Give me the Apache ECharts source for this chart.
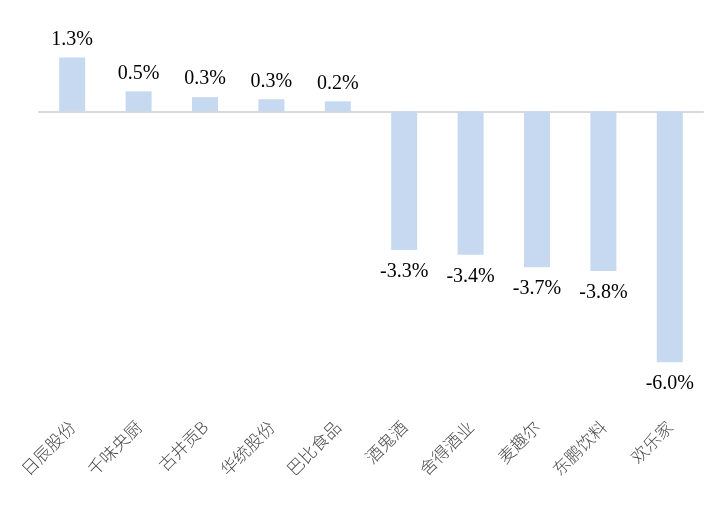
<!DOCTYPE html>
<html><head><meta charset="utf-8">
<script src="https://cdn.jsdelivr.net/npm/echarts@6/dist/echarts.min.js"></script>
<style>html,body{margin:0;padding:0;background:#fff}#c{width:726px;height:516px}</style>
</head><body><div id="c"></div>
<script>
const categories = ['日辰股份','千味央厨','古井贡B','华统股份','巴比食品','酒鬼酒','舍得酒业','麦趣尔','东鹏饮料','欢乐家'];
const values = [1.29, 0.48, 0.34, 0.29, 0.24, -3.33, -3.44, -3.74, -3.83, -6.02];
const chart = echarts.init(document.getElementById('c'));
chart.setOption({
  animation: false,
  grid: {left: 39, right: 23, top: 28, height: 375},
  xAxis: [{
    type: 'category', data: categories, position: 'bottom',
    axisLine: {onZero: false, show: false}, axisTick: {show: false},
    axisLabel: {rotate: 45, margin: 21, fontSize: 17, color: '#4a4a4a', fontFamily: 'Noto Sans CJK SC', fontWeight: 300, interval: 0}
  }, {
    type: 'category', data: categories, position: 'bottom',
    axisLine: {onZero: true, lineStyle: {color: '#D9D9D9', width: 2}}, axisTick: {show: false},
    axisLabel: {show: false}
  }],
  yAxis: {type: 'value', min: -7, max: 2, show: false, splitLine: {show: false}},
  series: [{
    type: 'bar', xAxisIndex: 0, barWidth: 26,
    data: values.map(v => ({value: v, label: {position: v < 0 ? 'bottom' : 'top', distance: v < 0 ? 12 : 8}})),
    itemStyle: {color: '#C6D9F1'},
    label: {
      show: true, fontFamily: 'Liberation Serif', fontSize: 20, color: '#000',
      formatter: p => p.value.toFixed(1) + '%'
    }
  }]
});
</script></body></html>
